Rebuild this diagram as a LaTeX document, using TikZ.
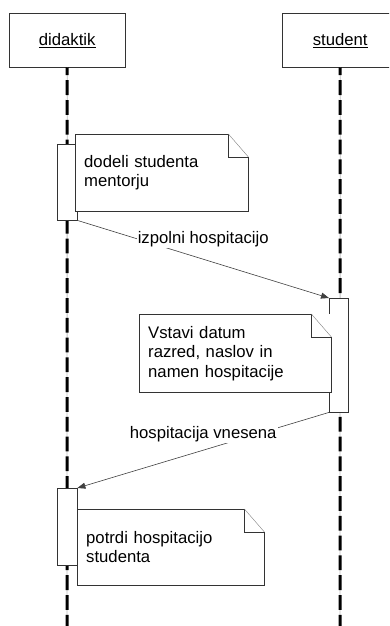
\documentclass[tikz,border=0pt]{standalone}
\usepackage{fontspec}
\setmainfont{Liberation Sans}
\usetikzlibrary{arrows.meta}

\begin{document}
\begin{tikzpicture}[x=1pt,y=-1pt,
		obj/.style={draw=black!80,fill=white,minimum width=116pt,minimum height=54pt,anchor=north west,font=\fontsize{16.7}{20}\selectfont},
		lifeline/.style={line width=3pt,dash pattern=on 14.8pt off 5pt,dash phase=7pt},
		act/.style={draw=black!80,fill=white,inner sep=0pt,anchor=north west},
		note/.style={fill=white,inner xsep=9pt,inner ysep=0pt,anchor=north west,align=left,font=\fontsize{16.7}{19.5}\selectfont},
		msg/.style={draw=black!75,line width=0.6pt,-{Triangle[length=8pt,width=6pt]}},
		lbl/.style={fill=white,inner sep=1pt,font=\fontsize{16.7}{20}\selectfont}]
	\useasboundingbox (0,0) rectangle (389,626);
	\clip (0,0) rectangle (389,626);
	\node[obj] (didaktik) at (9,13) {\underline{didaktik}};
	\node[obj] (student) at (282,13) {\underline{student}};
	\coordinate (dEnd) at (67,626);
	\coordinate (sEnd) at (340,626);
	\draw[gray!50,line width=0.8pt] (didaktik.south) -- (dEnd) (student.south) -- (sEnd);
	\draw[lifeline] (didaktik.south) -- (dEnd) (student.south) -- (sEnd);
	\node[act,minimum width=20pt,minimum height=76pt] (a1) at (57,144) {};
	\node[act,minimum width=19pt,minimum height=114pt] (a2) at (329,298) {};
	\node[act,minimum width=20pt,minimum height=77pt] (a3) at (57,488) {};
	\node[note,minimum width=173pt,minimum height=77pt,text width=155pt] (n1) at (75,134) {dodeli studenta\\mentorju};
	\node[note,minimum width=192pt,minimum height=78pt,text width=174pt] (n2) at (139,314) {Vstavi datum\\razred, naslov in\\namen hospitacije};
	\node[note,minimum width=187pt,minimum height=76pt,text width=169pt] (n3) at (77,509) {potrdi hospitacijo\\studenta};
	\foreach \n in {n1,n2,n3}{
		\draw[black!80] (\n.north west) -- ([xshift=-20pt]\n.north east) |- ([yshift=-23pt]\n.north east) -- (\n.south east) -- (\n.south west) -- cycle;
		\draw[gray] ([xshift=-20pt]\n.north east) -- ([yshift=-23pt]\n.north east);
	}
	\draw[msg] (a1.south east) -- node[lbl,yshift=20pt] {izpolni hospitacijo} (a2.north west);
	\draw[msg] (a2.south west) -- node[lbl,yshift=16pt] {hospitacija vnesena} (a3.north east);
\end{tikzpicture}
\end{document}
